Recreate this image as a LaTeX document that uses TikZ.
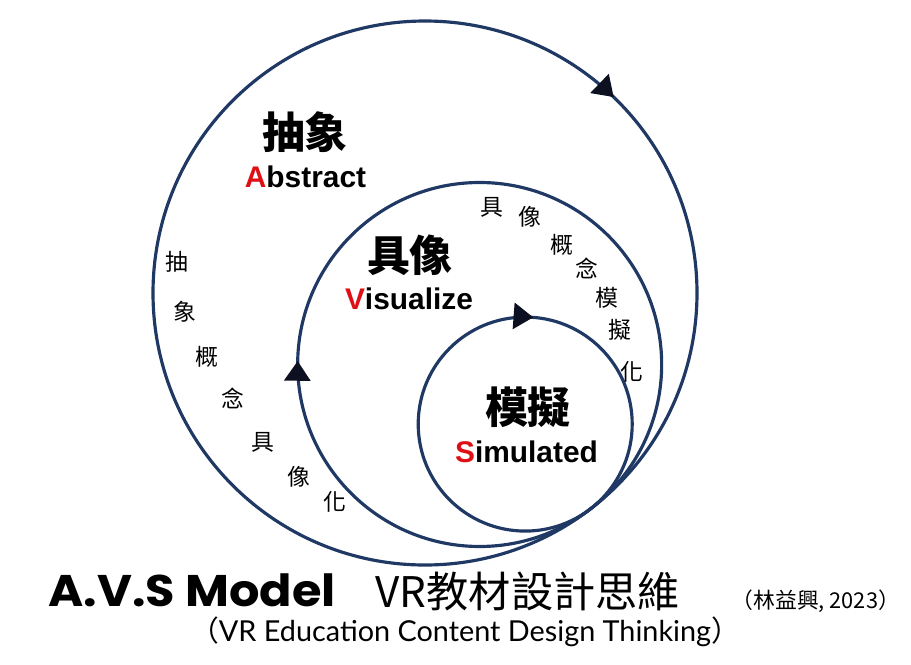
\documentclass[tikz,border=0pt]{standalone}
\usepackage{fontspec}
\setmainfont{Liberation Sans}
\newfontfamily\cjk{Noto Sans CJK TC}
\newfontfamily\poppins{Poppins}[FakeStretch=1.08]
\newfontfamily\lato{Lato}
\usetikzlibrary{arrows.meta,decorations.markings,calc}
\definecolor{avsblue}{RGB}{31,56,100}
\definecolor{avsred}{RGB}{222,16,22}
\definecolor{avstip}{RGB}{12,16,32}

\tikzset{
  avsring/.style={avsblue, line width=0.9pt, postaction={decorate},
    decoration={markings, mark=at position #1 with {\arrowreversed{Triangle[length=5.6pt,width=7.4pt,color=avstip]}}}},
  bigcjk/.style={inner sep=0pt, font=\cjk\bfseries\fontsize{12.2}{12.2}\selectfont},
  engword/.style={inner sep=0pt, anchor=base, font=\bfseries\fontsize{8.5}{8.5}\selectfont},
  smallcjk/.style={inner sep=0pt, font=\cjk\fontsize{6.5}{6.5}\selectfont}
}

\begin{document}
\begin{tikzpicture}
  \useasboundingbox (0,0) rectangle (9.11,6.65);
  % three circles touching at one point
  \coordinate (touch) at (5.902,1.559);
  \coordinate (outerc) at ($(touch)+(127.4:2.72)$);
  \coordinate (middlec) at ($(touch)+(127.4:1.82)$);
  \coordinate (innerc) at ($(touch)+(127.4:1.07)$);
  \draw[avsring=0.128] (outerc) circle (2.72);
  \draw[avsring=0.497] (middlec) circle (1.82);
  \draw[avsring=0.238] (innerc) circle (1.07);

  % titles
  \node[bigcjk] (abscn) at (3.05,5.33) {抽象};
  \node[engword] (absen) at (3.055,4.77) {\textcolor{avsred}{A}bstract};
  \node[bigcjk] (viscn) at (4.10,4.10) {具像};
  \node[engword] (visen) at (4.09,3.55) {\textcolor{avsred}{V}isualize};
  \node[bigcjk] (simcn) at (5.28,2.58) {模擬};
  \node[engword] (simen) at (5.265,2.02) {\textcolor{avsred}{S}imulated};

  % small words along the rings
  \foreach \ch/\x/\y [count=\i] in {抽/1.77/4.03, 象/1.85/3.53, 概/2.07/3.08, 念/2.33/2.67, 具/2.63/2.23, 像/2.99/1.88, 化/3.35/1.63}
    \node[smallcjk] (leftch\i) at (\x,\y) {\ch};
  \foreach \ch/\x/\y [count=\i] in {具/4.92/4.58, 像/5.30/4.48, 概/5.62/4.20, 念/5.87/3.97, 模/6.07/3.67, 擬/6.20/3.35, 化/6.32/2.93}
    \node[smallcjk] (rightch\i) at (\x,\y) {\ch};

  % caption
  \node[inner sep=0pt, anchor=base west, font=\poppins\bfseries\fontsize{12.6}{12.6}\selectfont] (model) at (0.48,0.58) {A.V.S Model};
  \node[inner sep=0pt, anchor=base west, font=\cjk\fontsize{12}{12}\selectfont] (vrcn) at (3.75,0.57) {VR教材設計思維};
  \node[inner sep=0pt, anchor=west, font=\cjk\fontsize{6.2}{6.2}\selectfont] (cite) at (7.31,0.64) {（林益興, 2023）};
  \node[inner sep=0pt, anchor=base, font=\lato\fontsize{8.2}{8.2}\selectfont] (vren) at (4.65,0.23) {{\cjk（}VR Education Content Design Thinking{\cjk）}};
\end{tikzpicture}
\end{document}
